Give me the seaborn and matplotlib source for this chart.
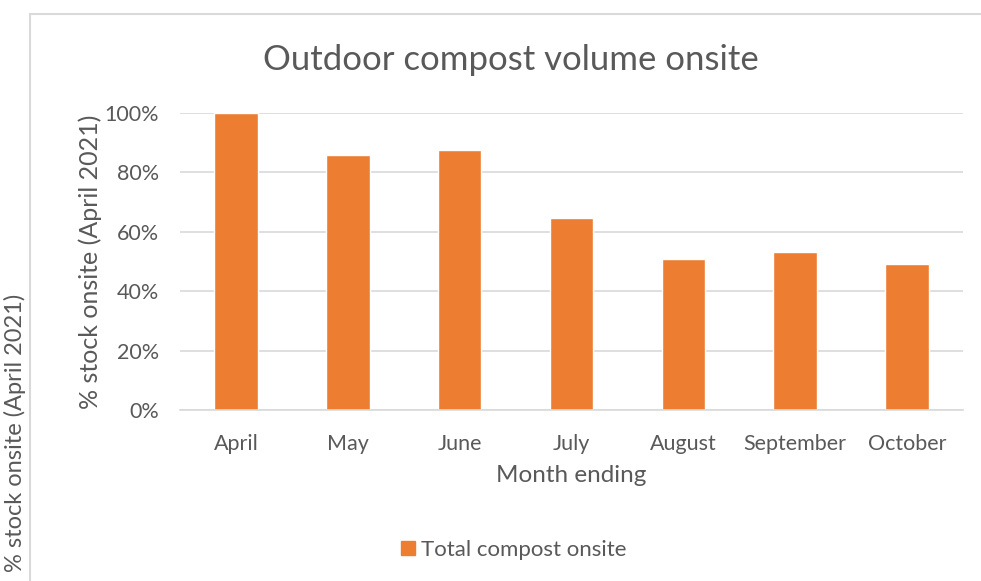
import matplotlib
matplotlib.use("Agg")
import matplotlib.pyplot as plt
import matplotlib.patches as mpatches
import pandas as pd
import seaborn as sns

# ── Data ──────────────────────────────────────────────────────────────────────
MONTHS = ["April", "May", "June", "July", "August", "September", "October"]
STOCK_PCT = [1.00, 0.86, 0.875, 0.645, 0.51, 0.532, 0.49]
Y_TICKS = [0.0, 0.2, 0.4, 0.6, 0.8, 1.0]
Y_TICK_LABELS = ["0%", "20%", "40%", "60%", "80%", "100%"]

TITLE = "Outdoor compost volume onsite"
X_LABEL = "Month ending"
Y_LABEL = "% stock onsite (April 2021)"
SERIES = "Total compost onsite"

BAR = "#ED7D31"
TEXT = "#595959"
GRID = "#d9d9d9"

sns.set_theme(style="white")
plt.rcParams["font.family"] = ["Lato", "DejaVu Sans"]

df = pd.DataFrame({"month": MONTHS, "pct": STOCK_PCT})

fig = plt.figure(figsize=(9.81, 5.81), dpi=100)
ax = fig.add_axes([0.1835, 0.2943, 0.7982, 0.5112])

sns.barplot(data=df, x="month", y="pct", color=BAR, saturation=1,
            width=0.39, ax=ax)

ax.set_ylim(0, 1.0)
ax.set_xlim(-0.5, len(MONTHS) - 0.5)
ax.set_yticks(Y_TICKS)
ax.set_yticklabels(Y_TICK_LABELS)
ax.yaxis.grid(True, color=GRID, linewidth=1.2)
ax.set_axisbelow(True)
for side in ["top", "right", "left"]:
    ax.spines[side].set_visible(False)
ax.spines["bottom"].set_color(GRID)
ax.spines["bottom"].set_linewidth(1.2)
ax.tick_params(axis="both", length=0, labelsize=15.5, colors=TEXT)
ax.tick_params(axis="x", pad=17)
ax.tick_params(axis="y", pad=15)

ax.set_xlabel(X_LABEL, fontsize=17.5, color=TEXT, labelpad=8)
ax.set_ylabel(Y_LABEL, fontsize=18, color=TEXT, labelpad=2)

fig.text(0.521, 0.897, TITLE, ha="center", va="center",
         fontsize=25, color=TEXT)

# chart-area border
fig.add_artist(mpatches.Rectangle((30 / 981, -0.05), 1.0, 1 - 14 / 581 + 0.05,
                                  transform=fig.transFigure, fill=False,
                                  edgecolor=GRID, linewidth=1.5))

# stray outer label, left of the chart frame
fig.text(15 / 981, 1 - 433 / 581, Y_LABEL, rotation=90, ha="center",
         va="center", fontsize=17, color=TEXT)

handle = mpatches.Patch(color=BAR, label=SERIES)
fig.legend(handles=[handle], loc="center", bbox_to_anchor=(0.524, 1 - 550 / 581),
           frameon=False, fontsize=16, labelcolor=TEXT,
           handlelength=0.6, handleheight=0.6, handletextpad=0.3)

fig.savefig("out.png", dpi=100, facecolor="white")
